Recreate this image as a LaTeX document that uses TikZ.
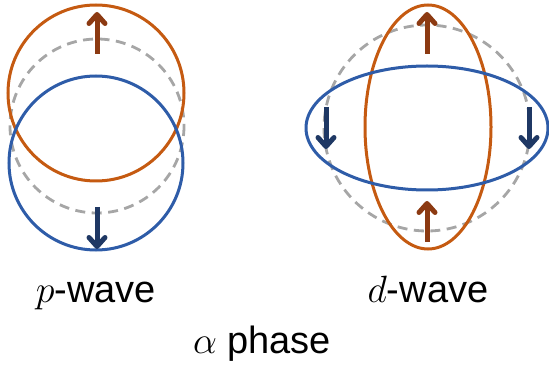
\RequirePackage{fix-cm}
\documentclass[tikz,border=0pt]{standalone}
\usepackage{fontspec}
\setmainfont{Liberation Sans}
\usetikzlibrary{arrows.meta}
\definecolor{orng}{RGB}{197,90,17}
\definecolor{blu}{RGB}{46,92,168}
\definecolor{gry}{RGB}{166,166,166}
\definecolor{orarr}{RGB}{140,58,18}
\definecolor{blarr}{RGB}{31,56,100}
\tikzset{
  ring/.style={line width=3pt},
  dashring/.style={line width=2.8pt, gry, dash pattern=on 10pt off 6.5pt},
  spinhead/.style={-{Straight Barb[length=9pt,width=16pt,round]}},
  spinup/.style={line width=5pt, orarr, spinhead},
  spindn/.style={line width=5pt, blarr, spinhead},
  lab/.style={font=\fontsize{38}{43}\selectfont, anchor=base, inner sep=0pt}
}
\begin{document}
\begin{tikzpicture}[x=1pt,y=-1pt]
\useasboundingbox (0,0) rectangle (549,374);
% left: p-wave
\draw[dashring] (97,126) circle (87);
\draw[ring, orng] (96,93) circle (88);
\draw[ring, blu] (96,163) circle (87);
\coordinate (lu1) at (97,54); \coordinate (lu2) at (97,12);
\coordinate (ld1) at (97,207); \coordinate (ld2) at (97,249);
\draw[spinup] (lu1) -- (lu2);
\draw[spindn] (ld1) -- (ld2);
% right: d-wave
\draw[dashring] (427,128) circle (103);
\draw[ring, orng] (428,127) ellipse (63 and 122);
\draw[ring, blu] (427,128) ellipse (121 and 62);
\coordinate (ru1) at (427,54); \coordinate (ru2) at (427,12);
\coordinate (rb1) at (427,242); \coordinate (rb2) at (427,201);
\coordinate (rl1) at (326,107); \coordinate (rl2) at (326,149);
\coordinate (rr1) at (529,107); \coordinate (rr2) at (529,149);
\draw[spinup] (ru1) -- (ru2);
\draw[spinup] (rb1) -- (rb2);
\draw[spindn] (rl1) -- (rl2);
\draw[spindn] (rr1) -- (rr2);
% labels
\node[lab] (pw) at (96,302) {$p$-wave};
\node[lab] (dw) at (428,302) {$d$-wave};
\node[lab] (ap) at (262,353) {$\alpha$ phase};
\end{tikzpicture}
\end{document}
